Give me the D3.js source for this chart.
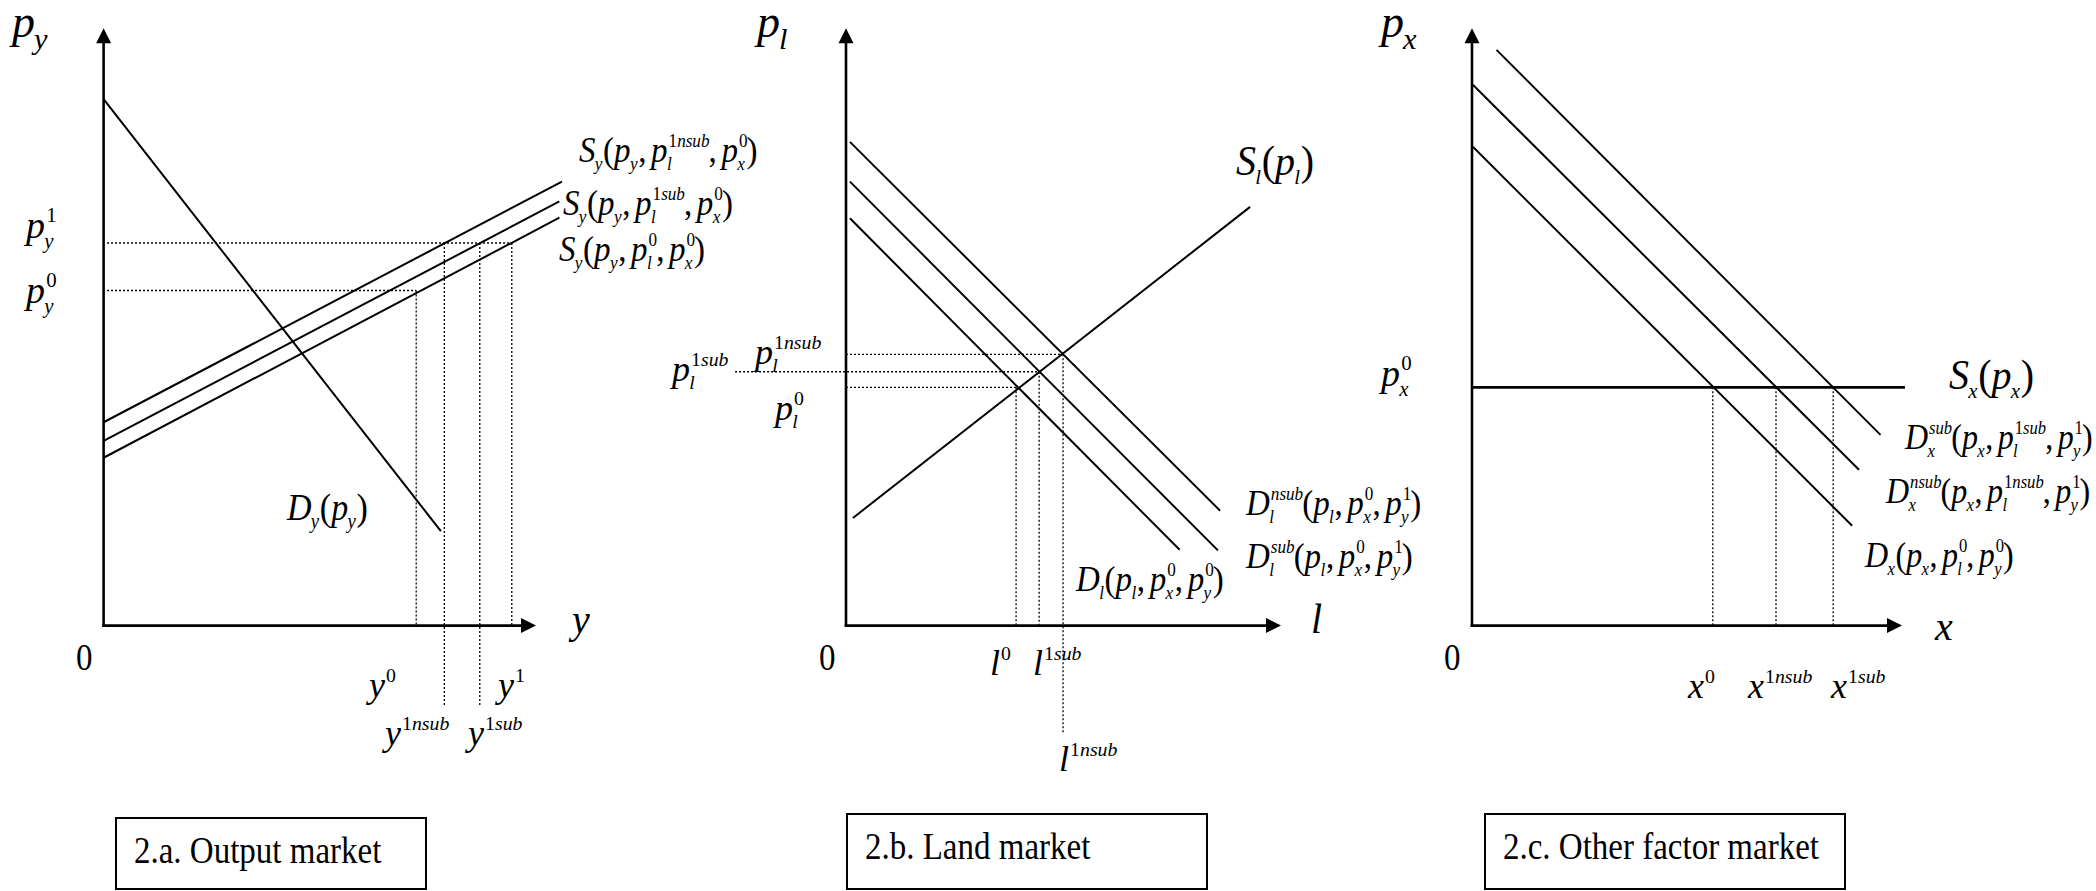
<!DOCTYPE html>
<html><head><meta charset="utf-8">
<script src="https://cdn.jsdelivr.net/npm/d3@7"></script>
<style>body{margin:0;background:#fff}svg{display:block}</style>
</head><body>
<svg id="chart" width="2096" height="891"></svg>
<script>
// ---------- Output market (units 0–100 on both axes) ----------
const outputDemand = [[0, 87.5], [78.0, 15.7]];
const outputSupply = [
  [[0, 33.8], [106.0, 73.8]],
  [[0, 30.7], [105.4, 70.5]],
  [[0, 27.9], [105.4, 67.8]]
];
const outputSupplyLabels = ["S_y(p_y,p_l^{1nsub},p_x^0)", "S_y(p_y,p_l^{1sub},p_x^0)", "S_y(p_y,p_l^0,p_x^0)"];
const outputPrices = [55.7, 63.6];                 // p_y^0, p_y^1
const outputQuantities = [72.3, 78.8, 87.0, 94.4]; // y^0, y^1nsub, y^1sub, y^1

// ---------- Land market ----------
const landSupply = [[1.6, 17.9], [92.9, 69.6]];
const landDemand = [
  [[0.9, 80.4], [86.0, 19.1]],
  [[0.9, 73.8], [85.5, 12.5]],
  [[0.9, 67.7], [76.7, 12.6]]
];
const landDemandLabels = ["D_l^{nsub}(p_l,p_x^0,p_y^1)", "D_l^{sub}(p_l,p_x^0,p_y^1)", "D_l(p_l,p_x^0,p_y^0)"];
const landPrices = [39.6, 42.2, 45.1];     // p_l^0, p_l^1sub, p_l^1nsub
const landQuantities = [39.1, 44.4, 49.9]; // l^0, l^1sub, l^1nsub

// ---------- Other factor market ----------
const factorPrice = 39.6;                  // p_x^0, perfectly elastic supply
const factorSupplyEnd = 100.7;
const factorDemand = [
  [[5.7, 95.7], [95.0, 31.7]],
  [[0.2, 89.9], [90.0, 25.9]],
  [[0.2, 79.6], [88.4, 16.6]]
];
const factorDemandLabels = ["D_x^{sub}(p_x,p_l^{1sub},p_y^1)", "D_x^{nsub}(p_x,p_l^{1nsub},p_y^1)", "D_x(p_x,p_l^0,p_y^0)"];
const factorQuantities = [56.0, 70.7, 84.0]; // x^0, x^1nsub, x^1sub

const panelTitles = ["2.a. Output market", "2.b. Land market", "2.c. Other factor market"];

// ---------- drawing ----------
const FONT = "'Liberation Serif','Times New Roman',serif";
const svg = d3.select("#chart");
const ys = d3.scaleLinear().domain([0, 100]).range([625.6, 24]);
const xa = d3.scaleLinear().domain([0, 100]).range([103.6, 536]);
const xb = d3.scaleLinear().domain([0, 100]).range([846, 1281]);
const xc = d3.scaleLinear().domain([0, 100]).range([1472, 1902]);
const AXIS_TOP = 99.3;

function parseMath(s) {
  const atoms = []; let i = 0;
  const group = () => {
    if (s[i] === "{") { const j = s.indexOf("}", i); const g = s.slice(i + 1, j); i = j + 1; return g; }
    return s[i++];
  };
  while (i < s.length) {
    const a = { base: s[i++] };
    while (s[i] === "_" || s[i] === "^") {
      const k = s[i++]; const g = group();
      if (k === "_") a.sub = g; else a.sup = g;
    }
    atoms.push(a);
  }
  return atoms;
}
function run(g, s, x, y, size) {
  let w = 0;
  (s.match(/[A-Za-z]+|[^A-Za-z]+/g) || []).forEach(r => {
    const t = g.append("text").attr("x", x + w).attr("y", y)
      .attr("font-family", FONT).attr("font-size", size)
      .attr("font-style", /[A-Za-z]/.test(r) ? "italic" : "normal")
      .text(r);
    w += t.node().getComputedTextLength();
  });
  return w;
}
// Typesets a small TeX-like string (letters italic, digits and punctuation upright)
function math(s, x, y, size, ratio = 0.52, stretch = 1, subDrop = 0.22) {
  const g = svg.append("g")
    .attr("transform", `translate(0,${y}) scale(1,${stretch}) translate(0,${-y})`);
  let cx = x;
  parseMath(s).forEach(a => {
    cx += run(g, a.base, cx, y, size);
    if (a.base === ",") cx += size * 0.14;
    const ss = size * ratio;
    let w = 0;
    if (a.sub) w = Math.max(w, run(g, a.sub, cx - size * 0.02, y + size * subDrop, ss));
    if (a.sup) w = Math.max(w, run(g, a.sup, cx + size * 0.03, y - size * 0.42, ss));
    cx += w;
  });
  return g;
}

const line = d3.line();
function axes(xs) {
  const ox = xs(0), oy = ys(0), tx = xs(100), ty = ys(AXIS_TOP);
  svg.append("line").attr("x1", ox).attr("y1", oy + 1.3).attr("x2", ox).attr("y2", ty + 12)
    .attr("stroke", "#000").attr("stroke-width", 2.6);
  svg.append("line").attr("x1", ox - 1.3).attr("y1", oy).attr("x2", tx - 12).attr("y2", oy)
    .attr("stroke", "#000").attr("stroke-width", 2.6);
  svg.append("path").attr("d", `M${ox},${ty}L${ox - 7.5},${ty + 15}L${ox + 7.5},${ty + 15}Z`);
  svg.append("path").attr("d", `M${tx},${oy}L${tx - 15},${oy - 7.5}L${tx - 15},${oy + 7.5}Z`);
}
function curve(xs, pts, w = 2) {
  svg.append("path").attr("d", line(pts.map(p => [xs(p[0]), ys(p[1])])))
    .attr("fill", "none").attr("stroke", "#000").attr("stroke-width", w);
}
function dotted(xs, a, b) {
  svg.append("path").attr("d", line([a, b].map(p => [xs(p[0]), ys(p[1])])))
    .attr("fill", "none").attr("stroke", "#000").attr("stroke-width", 1.3)
    .attr("stroke-dasharray", "2,2");
}
function box(x, y, w, h, label) {
  svg.append("rect").attr("x", x).attr("y", y).attr("width", w).attr("height", h)
    .attr("fill", "none").attr("stroke", "#000").attr("stroke-width", 2);
  const by = y + 45;
  svg.append("text").attr("x", x + 18).attr("y", by).attr("font-family", FONT)
    .attr("font-size", 33)
    .attr("transform", `translate(0,${by}) scale(1,1.15) translate(0,${-by})`)
    .text(label);
}
function origin(x) {
  svg.append("text").attr("x", x).attr("y", 670).attr("font-family", FONT).attr("font-size", 33)
    .attr("transform", "translate(0,670) scale(1,1.12) translate(0,-670)")
    .text("0");
}

// ----- panel a: output market -----
const [py0, py1] = outputPrices;
const [q0, q1n, q1s, q1] = outputQuantities;
dotted(xa, [0.8, py1], [q1, py1]);
dotted(xa, [0.8, py0], [q0, py0]);
dotted(xa, [q0, py0], [q0, 0]);
dotted(xa, [q1n, py1], [q1n, -13.4]);
dotted(xa, [q1s, py1], [q1s, -13.4]);
dotted(xa, [q1, py1], [q1, 0]);
curve(xa, outputDemand);
outputSupply.forEach(s => curve(xa, s));
axes(xa);
math("p_y", 12, 37, 46, 0.66, 1, 0.27);
math("p_y^1", 26, 238, 38, 0.55, 1, 0.25);
math("p_y^0", 26, 303, 38, 0.55, 1, 0.25);
math(outputSupplyLabels[0], 579, 162, 33, 0.52, 1.1);
math(outputSupplyLabels[1], 563, 215, 33, 0.52, 1.1);
math(outputSupplyLabels[2], 559, 261, 33, 0.52, 1.1);
math("D_y(p_y)", 287, 520, 34, 0.55, 1.1);
math("y", 572, 633, 40, 0.55, 1.05);
origin(76);
math("y^0", 369, 697, 36, 0.55);
math("y^1", 498, 697, 36, 0.55);
math("y^{1nsub}", 385, 745, 36, 0.55);
math("y^{1sub}", 468, 745, 36, 0.55);
box(116, 818, 310, 71, panelTitles[0]);

// ----- panel b: land market -----
const [pl0, pl1s, pl1n] = landPrices;
const [l0, l1s, l1n] = landQuantities;
dotted(xb, [0, pl1n], [l1n, pl1n]);
dotted(xb, [-25.5, pl1s], [l1s, pl1s]);
dotted(xb, [0, pl0], [l0, pl0]);
dotted(xb, [l0, pl0], [l0, 0]);
dotted(xb, [l1s, pl1s], [l1s, 0]);
dotted(xb, [l1n, pl1n], [l1n, -17.8]);
curve(xb, landSupply);
landDemand.forEach(d => curve(xb, d));
axes(xb);
math("p_l", 757, 37, 46, 0.66, 1, 0.27);
math("S_l(p_l)", 1236, 175, 40, 0.52, 1.05);
math("p_l^{1nsub}", 755, 364, 36, 0.55);
math("p_l^{1sub}", 672, 381, 36, 0.55);
math("p_l^0", 775, 420, 36, 0.55);
math(landDemandLabels[0], 1246, 515, 33, 0.52, 1.1);
math(landDemandLabels[1], 1246, 568, 33, 0.52, 1.1);
math(landDemandLabels[2], 1076, 591, 33, 0.52, 1.1);
math("l", 1311, 633, 40, 0.55, 1.05);
origin(819);
math("l^0", 990, 675, 36, 0.55);
math("l^{1sub}", 1033, 675, 36, 0.55);
math("l^{1nsub}", 1059, 771, 36, 0.55);
box(847, 814, 360, 75, panelTitles[1]);

// ----- panel c: other factor market -----
factorQuantities.forEach(q => dotted(xc, [q, factorPrice], [q, 0]));
curve(xc, [[0, factorPrice], [factorSupplyEnd, factorPrice]], 2.6);
factorDemand.forEach(d => curve(xc, d));
axes(xc);
math("p_x", 1381, 37, 46, 0.66, 1, 0.27);
math("p_x^0", 1381, 386, 38, 0.55, 1, 0.25);
math("S_x(p_x)", 1949, 389, 40, 0.52, 1.05);
math(factorDemandLabels[0], 1905, 449, 32, 0.52, 1.1);
math(factorDemandLabels[1], 1886, 503, 32, 0.52, 1.1);
math(factorDemandLabels[2], 1865, 567, 32, 0.52, 1.1);
math("x", 1935, 640, 40, 0.55, 1.05);
origin(1444);
math("x^0", 1688, 698, 36, 0.55);
math("x^{1nsub}", 1748, 698, 36, 0.55);
math("x^{1sub}", 1831, 698, 36, 0.55);
box(1485, 814, 360, 75, panelTitles[2]);
</script>
</body></html>
